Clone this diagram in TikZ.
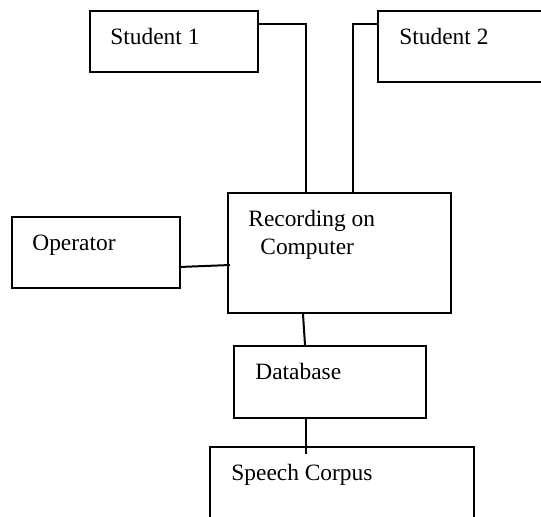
\documentclass[tikz,border=0pt]{standalone}
\usepackage{fontspec}
\setmainfont{Liberation Serif}
\usepackage{tikz}
\usetikzlibrary{shapes,arrows,positioning,calc,fit}

\tikzset{
    blk/.style={draw, line width=1pt, inner sep=0pt, fit={#1}},
    lbl/.style={anchor=base west, inner sep=0pt, font=\fontsize{11.7pt}{14pt}\selectfont},
    wire/.style={line width=1pt}
}

\begin{document}
\begin{tikzpicture}[x=0.5pt, y=-0.5pt]
    \clip (0,0) rectangle (541,516);
    \useasboundingbox (0,0) rectangle (541,516);

    % Boxes
    \node[blk={(90,11) (258,72)}] (stuA) {};
    \node[blk={(378,11) (570,82)}] (stuB) {};
    \node[blk={(12,217) (180,288)}] (oper) {};
    \node[blk={(228,193) (451,313)}] (rec) {};
    \node[blk={(234,346) (426,418)}] (db) {};
    \node[blk={(210,447) (474,560)}] (corpus) {};

    % Labels
    \node[lbl] (stuAtxt) at (110,44) {Student 1};
    \node[lbl] (stuBtxt) at (399,44) {Student 2};
    \node[lbl] (opertxt) at (32,250) {Operator};
    \node[lbl] (rectxtA) at (248,226) {Recording on};
    \node[lbl] (rectxtB) at (260,254) {Computer};
    \node[lbl] (dbtxt) at (255,379) {Database};
    \node[lbl] (corpustxt) at (231,480) {Speech Corpus};

    % Connections
    \draw[wire] ($(stuA.north east)+(0,14)$) -| ($(rec.north west)+(79,0)$);
    \draw[wire] ($(stuB.north west)+(0,14)$) -| ($(rec.north west)+(126,1)$);
    \draw[wire] ($(oper.north east)+(-2,51)$) -- ($(rec.north west)+(3,73)$);
    \draw[wire] ($(rec.south west)+(76,0)$) -- ($(db.north west)+(72,0)$);
    \draw[wire] ($(db.south west)+(73,0)$) -- ($(corpus.north west)+(97,8)$);
\end{tikzpicture}
\end{document}
